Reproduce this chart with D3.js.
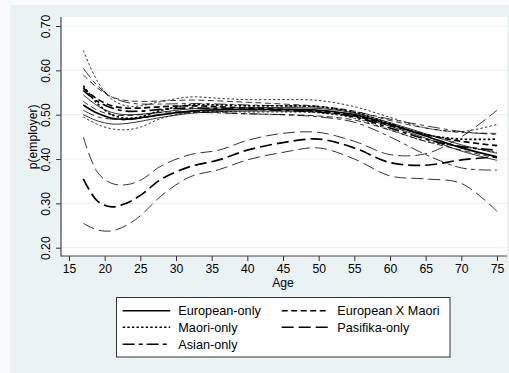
<!DOCTYPE html>
<html>
<head>
<meta charset="utf-8">
<script src="https://cdn.jsdelivr.net/npm/d3@7"></script>
<style>
  body { margin: 0; background: #ffffff; }
  svg { display: block; }
  text { font-family: "Liberation Sans", Arial, Helvetica, sans-serif; fill: #000; }
</style>
</head>
<body>
<svg id="chart" width="509" height="373"></svg>
<script>
// Ages at which the smoothed probabilities are tabulated
const ages = [17, 19, 21, 23, 25, 28, 32, 36, 40, 45, 50, 55, 60, 65, 70, 75];

// European-only: estimate and 95% band
const europeanEst = [0.522, 0.503, 0.492, 0.490, 0.493, 0.500, 0.508, 0.511, 0.512, 0.512, 0.510, 0.500, 0.478, 0.452, 0.425, 0.405];
const europeanLo  = [0.500, 0.486, 0.479, 0.480, 0.485, 0.494, 0.503, 0.507, 0.508, 0.508, 0.506, 0.496, 0.474, 0.447, 0.418, 0.397];
const europeanHi  = [0.545, 0.520, 0.505, 0.500, 0.501, 0.506, 0.513, 0.515, 0.516, 0.516, 0.514, 0.504, 0.482, 0.457, 0.432, 0.413];

// European X Maori
const euroMaoriEst = [0.560, 0.535, 0.520, 0.515, 0.515, 0.518, 0.520, 0.518, 0.515, 0.512, 0.508, 0.498, 0.476, 0.455, 0.440, 0.430];
const euroMaoriLo  = [0.530, 0.510, 0.500, 0.498, 0.500, 0.505, 0.507, 0.505, 0.502, 0.500, 0.497, 0.488, 0.465, 0.440, 0.420, 0.402];
const euroMaoriHi  = [0.590, 0.560, 0.540, 0.532, 0.530, 0.531, 0.533, 0.531, 0.528, 0.524, 0.519, 0.508, 0.487, 0.470, 0.460, 0.458];

// Maori-only
const maoriEst = [0.565, 0.525, 0.500, 0.492, 0.495, 0.510, 0.522, 0.522, 0.520, 0.520, 0.518, 0.505, 0.480, 0.455, 0.445, 0.445];
const maoriLo  = [0.495, 0.478, 0.468, 0.466, 0.472, 0.492, 0.505, 0.507, 0.506, 0.506, 0.504, 0.492, 0.466, 0.440, 0.428, 0.415];
const maoriHi  = [0.645, 0.575, 0.535, 0.520, 0.520, 0.530, 0.540, 0.537, 0.534, 0.534, 0.532, 0.518, 0.494, 0.470, 0.462, 0.478];

// Pasifika-only
const pasifikaEst = [0.355, 0.305, 0.292, 0.300, 0.318, 0.355, 0.383, 0.398, 0.420, 0.437, 0.445, 0.425, 0.392, 0.386, 0.398, 0.405];
const pasifikaLo  = [0.255, 0.240, 0.238, 0.250, 0.272, 0.318, 0.360, 0.376, 0.398, 0.415, 0.425, 0.400, 0.362, 0.355, 0.345, 0.282];
const pasifikaHi  = [0.450, 0.370, 0.345, 0.342, 0.352, 0.385, 0.410, 0.420, 0.442, 0.458, 0.460, 0.440, 0.410, 0.412, 0.450, 0.510];

// Asian-only
const asianEst = [0.555, 0.530, 0.515, 0.508, 0.508, 0.512, 0.515, 0.514, 0.512, 0.510, 0.506, 0.495, 0.470, 0.445, 0.428, 0.420];
const asianLo  = [0.510, 0.495, 0.490, 0.488, 0.492, 0.500, 0.505, 0.504, 0.502, 0.500, 0.495, 0.483, 0.450, 0.410, 0.380, 0.375];
const asianHi  = [0.605, 0.565, 0.540, 0.528, 0.524, 0.524, 0.525, 0.524, 0.522, 0.520, 0.517, 0.507, 0.490, 0.475, 0.462, 0.455];

// Axis ticks and titles
const xTicks = [15, 20, 25, 30, 35, 40, 45, 50, 55, 60, 65, 70, 75];
const yTicks = [0.20, 0.30, 0.40, 0.50, 0.60, 0.70];
const xTitle = "Age";
const yTitle = "p(employer)";

// Group order as listed in the legend
const groupNames = ["European-only", "European X Maori", "Maori-only", "Pasifika-only", "Asian-only"];
const groupSeries = {
  "European-only":    { est: europeanEst,  lo: europeanLo,  hi: europeanHi },
  "European X Maori": { est: euroMaoriEst, lo: euroMaoriLo, hi: euroMaoriHi },
  "Maori-only":       { est: maoriEst,     lo: maoriLo,     hi: maoriHi },
  "Pasifika-only":    { est: pasifikaEst,  lo: pasifikaLo,  hi: pasifikaHi },
  "Asian-only":       { est: asianEst,     lo: asianLo,     hi: asianHi }
};

// Line patterns per group
const dashes = {
  "European-only": null,
  "European X Maori": "6,3.5",
  "Maori-only": "2.4,2.2",
  "Pasifika-only": "12,5",
  "Asian-only": "12,4,4,4"
};

const svg = d3.select("#chart");
const W = 509, H = 373;

// Backgrounds: outer margin, graph region, plot region
svg.append("rect").attr("width", W).attr("height", H).attr("fill", "#f8fafb");
svg.append("rect").attr("x", 10).attr("y", 5).attr("width", W - 10).attr("height", H - 5).attr("fill", "#eaf2f3");

const plot = { left: 61, right: 507, top: 17, bottom: 256 };
svg.append("rect")
  .attr("x", plot.left).attr("y", plot.top)
  .attr("width", plot.right - plot.left).attr("height", plot.bottom - plot.top)
  .attr("fill", "#ffffff");

const x = d3.scaleLinear().domain([15, 75]).range([69, 497]);
const y = d3.scaleLinear().domain([0.2, 0.7]).range([247.7, 26]);

// Horizontal grid lines
svg.append("g").selectAll("line").data(yTicks).join("line")
  .attr("x1", plot.left).attr("x2", plot.right)
  .attr("y1", d => y(d)).attr("y2", d => y(d))
  .attr("stroke", "#eaf2f3").attr("stroke-width", 1.2);

// Curves
const line = d3.line()
  .x(d => x(d[0])).y(d => y(d[1]))
  .curve(d3.curveCatmullRom.alpha(0.5));

const curves = svg.append("g").attr("fill", "none").attr("stroke", "#000");
const toPoints = arr => ages.map((a, i) => [a, arr[i]]);

groupNames.forEach(name => {
  const s = groupSeries[name];
  [s.lo, s.hi].forEach(band => {
    curves.append("path")
      .attr("d", line(toPoints(band)))
      .attr("stroke-width", 0.8)
      .attr("stroke-dasharray", dashes[name]);
  });
});
groupNames.forEach(name => {
  curves.append("path")
    .attr("d", line(toPoints(groupSeries[name].est)))
    .attr("stroke-width", 1.7)
    .attr("stroke-dasharray", dashes[name]);
});

// Y axis with rotated tick labels
const yAxis = svg.append("g")
  .attr("transform", `translate(${plot.left},0)`)
  .call(d3.axisLeft(y).tickValues(yTicks).tickFormat(d3.format(".2f")).tickSize(5));
yAxis.select(".domain").remove();
yAxis.selectAll(".tick line").attr("stroke", "#333");
yAxis.selectAll(".tick text")
  .attr("font-size", 12.2)
  .attr("text-anchor", "middle")
  .attr("transform", "translate(-11.5,0) rotate(-90)")
  .attr("x", 0).attr("y", 0).attr("dy", 0);

// X axis
const xAxis = svg.append("g")
  .attr("transform", `translate(0,${plot.bottom})`)
  .call(d3.axisBottom(x).tickValues(xTicks).tickFormat(d3.format("d")).tickSize(5).tickPadding(3));
xAxis.select(".domain").remove();
xAxis.selectAll(".tick line").attr("stroke", "#333");
xAxis.selectAll(".tick text").attr("font-size", 12.2);

// Axis lines spanning the plot region
svg.append("line").attr("x1", plot.left).attr("x2", plot.left)
  .attr("y1", plot.top).attr("y2", plot.bottom + 0.5).attr("stroke", "#444").attr("stroke-width", 1.2);
svg.append("line").attr("x1", plot.left).attr("x2", plot.right)
  .attr("y1", plot.bottom).attr("y2", plot.bottom).attr("stroke", "#444").attr("stroke-width", 1.2);

// Axis titles
svg.append("text").attr("x", (x(15) + x(75)) / 2).attr("y", 287)
  .attr("text-anchor", "middle").attr("font-size", 12.2).text(xTitle);
svg.append("text")
  .attr("transform", `translate(37,${(y(0.2) + y(0.7)) / 2}) rotate(-90)`)
  .attr("text-anchor", "middle").attr("font-size", 12.2).text(yTitle);

// Legend
const legend = svg.append("g");
legend.append("rect").attr("x", 116.5).attr("y", 297.5).attr("width", 333.5).attr("height", 59.5)
  .attr("fill", "#fff").attr("stroke", "#333").attr("stroke-width", 1);
const legendPos = [
  { col: 0, row: 0 }, { col: 1, row: 0 }, { col: 0, row: 1 }, { col: 1, row: 1 }, { col: 0, row: 2 }
];
const colX = [122.7, 281.7];
const rowY = [310.7, 327.3, 344.3];
groupNames.forEach((name, i) => {
  const p = legendPos[i];
  const lx = colX[p.col], ly = rowY[p.row];
  legend.append("line").attr("x1", lx).attr("x2", lx + 47.5).attr("y1", ly).attr("y2", ly)
    .attr("stroke", "#000").attr("stroke-width", 1.6).attr("stroke-dasharray", dashes[name]);
  legend.append("text").attr("x", lx + 55.6).attr("y", ly + 4.5)
    .attr("font-size", 12.7).text(name);
});
</script>
</body>
</html>
